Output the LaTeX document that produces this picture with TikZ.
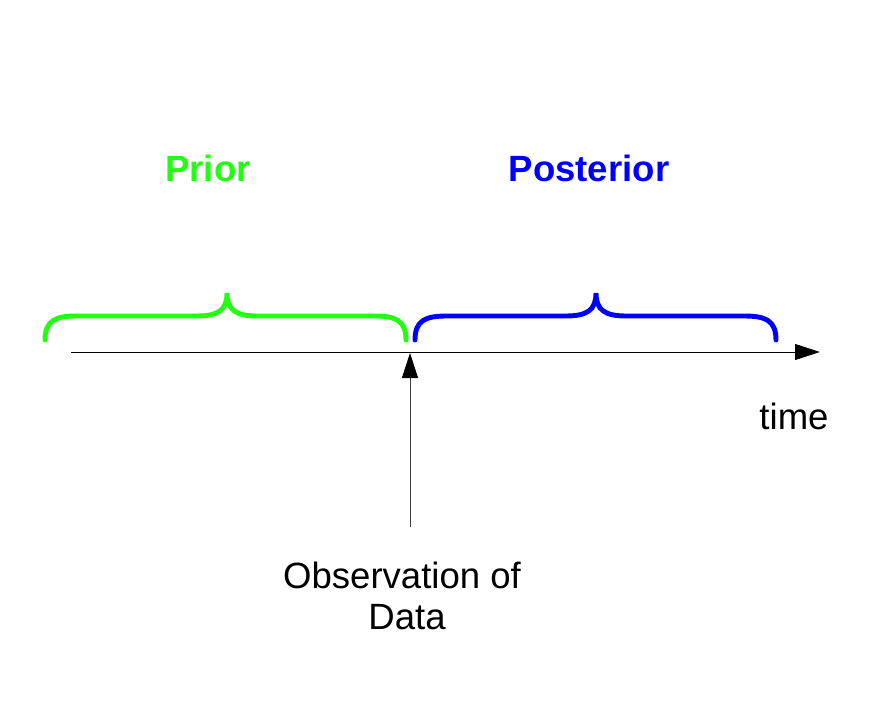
\documentclass[tikz,border=0pt]{standalone}
\usepackage{fontspec}
\setmainfont{Liberation Sans}
\usetikzlibrary{arrows.meta}
\definecolor{priorgreen}{RGB}{34,255,17}
\definecolor{postblue}{RGB}{0,0,255}
\tikzset{
  bracket/.style={line width=3.5pt,line cap=round},
  lbl/.style={font=\fontsize{26}{27}\selectfont},
  head/.style={-{Triangle[length=0.625cm,width=0.4cm,color=black]}}
}
\begin{document}
\begin{tikzpicture}
\useasboundingbox (0,0) rectangle (22,17.6);
%\draw[step=1cm,gray,very thin] (0,0) grid (22,17.6);
\coordinate (t0) at (1.775,8.8);
\coordinate (t1) at (20.5,8.8);
\draw[head,line width=0.7pt] (t0) -- (t1);
% prior bracket
\draw[bracket,priorgreen] (1.125,9.1) .. controls (1.125,9.6) and (1.4,9.7) .. (1.925,9.7)
  -- (4.925,9.7) .. controls (5.45,9.7) and (5.675,9.85) .. (5.675,10.275)
  .. controls (5.675,9.85) and (5.9,9.7) .. (6.425,9.7)
  -- (9.35,9.7) .. controls (9.875,9.7) and (10.15,9.6) .. (10.15,9.1);
% posterior bracket
\draw[bracket,postblue] (10.375,9.1) .. controls (10.375,9.6) and (10.65,9.7) .. (11.175,9.7)
  -- (14.15,9.7) .. controls (14.675,9.7) and (14.9,9.85) .. (14.9,10.275)
  .. controls (14.9,9.85) and (15.125,9.7) .. (15.65,9.7)
  -- (18.6,9.7) .. controls (19.125,9.7) and (19.4,9.6) .. (19.4,9.1);
\node[lbl,font=\fontsize{26}{27}\selectfont\bfseries,text=priorgreen] (prior) at (5.2,13.4) {Prior};
\node[lbl,font=\fontsize{26}{27}\selectfont\bfseries,text=postblue] (post) at (14.725,13.4) {Posterior};
\node[lbl] (time) at (19.85,7.2) {time};
\node[lbl,align=center] (obs) at (10.175,2.7) {Observation of\hspace*{0.25cm}\\[2pt]Data};
\coordinate (hit) at (10.25,8.775);
\coordinate (foot) at (10.25,4.425);
\draw[head,line width=0.6pt,black!75] (foot) -- (hit);
\end{tikzpicture}
\end{document}
